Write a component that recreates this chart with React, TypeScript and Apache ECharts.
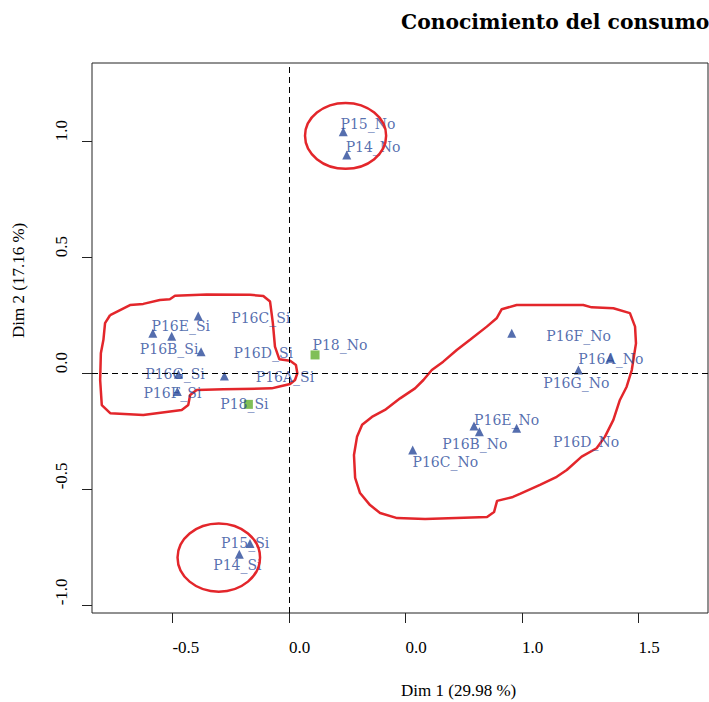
import React, { useEffect, useRef } from "react";
import * as echarts from "echarts";

const xTicks = [-0.5, 0, 0.5, 1, 1.5];
const xTickLabels = ["-0.5", "0.0", "0.0", "1.0", "1.5"];
const yTicks = [-1, -0.5, 0, 0.5, 1];
const yTickLabels = ["-1.0", "-0.5", "0.0", "0.5", "1.0"];

const titleText = "Conocimiento del consumo";
const xName = "Dim 1 (29.98 %)";
const yName = "Dim 2 (17.16 %)";

// Category points (triangles)
const triNames = [
  "P16C_Si", "P16E_Si", "P16B_Si", "P16D_Si", "P16G_Si", "P16A_Si", "P16F_Si", "P15_Si", "P14_Si",
  "P15_No", "P14_No", "P16F_No", "P16A_No", "P16G_No", "P16E_No", "P16D_No", "P16B_No", "P16C_No",
];
const triX = [
  -0.389, -0.584, -0.503, -0.377, -0.474, -0.277, -0.479, -0.167, -0.213,
  0.233, 0.248, 0.956, 1.378, 1.242, 0.794, 0.977, 0.817, 0.531,
];
const triY = [
  0.247, 0.172, 0.16, 0.093, -0.004, -0.012, -0.079, -0.733, -0.78,
  1.041, 0.941, 0.172, 0.065, 0.014, -0.227, -0.237, -0.252, -0.331,
];
const triLabelX = [
  -0.121, -0.464, -0.514, -0.11, -0.489, -0.017, -0.5, -0.188, -0.221,
  0.339, 0.361, 1.243, 1.381, 1.233, 0.934, 1.275, 0.798, 0.671,
];
const triLabelY = [
  0.237, 0.204, 0.105, 0.089, -0.004, -0.017, -0.086, -0.733, -0.826,
  1.075, 0.974, 0.162, 0.06, -0.041, -0.201, -0.295, -0.305, -0.384,
];

// Supplementary points (squares)
const sqNames = ["P18_Si", "P18_No"];
const sqX = [-0.174, 0.112];
const sqY = [-0.134, 0.079];
const sqLabelX = [-0.191, 0.219];
const sqLabelY = [-0.134, 0.122];

// Hand-drawn hulls
const hullLeftX = [
  -0.767, -0.682, -0.625, -0.554, -0.511, -0.489, -0.353, -0.167, -0.11, -0.081, -0.069, -0.06,
  -0.041, 0.005, 0.03, 0.036, 0.026, 0.005, -0.045, -0.074, -0.281, -0.396, -0.424, -0.432,
  -0.46, -0.625, -0.767, -0.803, -0.81, -0.807, -0.796, -0.789, -0.767,
];
const hullLeftY = [
  0.251, 0.294, 0.299, 0.316, 0.319, 0.334, 0.339, 0.338, 0.333, 0.309, 0.216, 0.115,
  0.06, 0.054, 0.036, 0.0, -0.029, -0.046, -0.058, -0.065, -0.069, -0.072, -0.094, -0.137,
  -0.158, -0.18, -0.172, -0.137, -0.029, 0.086, 0.144, 0.216, 0.251,
];
const hullRightX = [
  0.477, 0.541, 0.577, 0.613, 0.662, 0.72, 0.777, 0.849, 0.891, 0.913, 0.977, 1.263, 1.299,
  1.392, 1.463, 1.485, 1.489, 1.471, 1.449, 1.42, 1.392, 1.356, 1.32, 1.256, 1.192, 1.149,
  1.077, 0.991, 0.961, 0.893, 0.88, 0.85, 0.584, 0.464, 0.391, 0.348, 0.305, 0.284, 0.279,
  0.292, 0.314, 0.356, 0.412, 0.477,
];
const hullRightY = [
  -0.108, -0.065, -0.029, 0.014, 0.05, 0.1, 0.144, 0.201, 0.237, 0.276, 0.294, 0.294, 0.284,
  0.28, 0.259, 0.201, 0.129, 0.014, -0.058, -0.115, -0.201, -0.273, -0.323, -0.359, -0.417,
  -0.446, -0.481, -0.52, -0.533, -0.55, -0.598, -0.619, -0.628, -0.624, -0.602, -0.568,
  -0.516, -0.451, -0.352, -0.274, -0.222, -0.188, -0.158, -0.108,
];

// Hand-drawn ellipses (data units)
const ellCX = [0.243, -0.301];
const ellCY = [1.023, -0.794];
const ellRX = [0.174, 0.177];
const ellRY = [0.142, 0.147];

const BLUE = "#2B4A9A";
const GREEN = "#62AF2E";
const RED = "#E3262B";
const LABEL_FONT = "'DejaVu Serif', serif";
const AXIS_FONT = "'Liberation Serif', 'Times New Roman', serif";

function tickLabel(v: number, ticks: number[], labels: string[]) {
  for (let i = 0; i < ticks.length; i++) {
    if (Math.abs(v - ticks[i]) < 1e-9) return labels[i];
  }
  return "";
}

export default function App() {
  const ref = useRef<HTMLDivElement>(null);

  useEffect(() => {
    if (!ref.current) return;
    const chart = echarts.init(ref.current, null, { renderer: "svg" });

    const option: any = {
      animation: false,
      backgroundColor: "#ffffff",
      grid: {
        left: 92,
        top: 63,
        width: 616,
        height: 550,
        show: true,
        borderColor: "#222",
        borderWidth: 1,
        backgroundColor: "transparent",
      },
      xAxis: {
        type: "value",
        min: -0.845,
        max: 1.798,
        axisLine: { show: false, onZero: false },
        splitLine: { show: false },
        axisTick: {
          show: true,
          inside: false,
          length: 10,
          customValues: xTicks,
          lineStyle: { color: "#222", width: 1 },
        },
        axisLabel: {
          customValues: xTicks,
          formatter: (v: number) => tickLabel(v, xTicks, xTickLabels),
          align: "left",
          margin: 26,
          color: "#000",
          fontFamily: AXIS_FONT,
          fontSize: 17,
        },
      },
      yAxis: {
        type: "value",
        min: -1.033,
        max: 1.337,
        axisLine: { show: false, onZero: false },
        splitLine: { show: false },
        axisTick: {
          show: true,
          inside: false,
          length: 10,
          customValues: yTicks,
          lineStyle: { color: "#222", width: 1 },
        },
        axisLabel: {
          customValues: yTicks,
          formatter: (v: number) => tickLabel(v, yTicks, yTickLabels),
          rotate: 90,
          align: "left",
          verticalAlign: "bottom",
          margin: 22,
          color: "#000",
          fontFamily: AXIS_FONT,
          fontSize: 17,
        },
      },
      series: [
        {
          type: "line",
          data: hullLeftX.map((x, i) => [x, hullLeftY[i]]),
          showSymbol: false,
          symbol: "none",
          lineStyle: { color: RED, width: 2.5 },
          silent: true,
          z: 2,
          markLine: {
            silent: true,
            symbol: ["none", "none"],
            label: { show: false },
            lineStyle: { color: "#000", type: [6, 4], width: 1 },
            data: [{ xAxis: 0 }, { yAxis: 0 }],
          },
        },
        {
          type: "line",
          data: hullRightX.map((x, i) => [x, hullRightY[i]]),
          showSymbol: false,
          symbol: "none",
          lineStyle: { color: RED, width: 2.5 },
          silent: true,
          z: 2,
        },
        {
          type: "scatter",
          data: triX.map((x, i) => [x, triY[i], triNames[i]]),
          symbol: "triangle",
          symbolSize: 9,
          itemStyle: { color: BLUE },
          z: 3,
        },
        {
          type: "scatter",
          data: sqX.map((x, i) => [x, sqY[i], sqNames[i]]),
          symbol: "rect",
          symbolSize: 9,
          itemStyle: { color: GREEN },
          z: 3,
        },
        {
          type: "scatter",
          data: triLabelX
            .map((x, i) => [x, triLabelY[i], triNames[i]])
            .concat(sqLabelX.map((x, i) => [x, sqLabelY[i], sqNames[i]])),
          symbolSize: 1,
          itemStyle: { color: "rgba(0,0,0,0)" },
          z: 4,
          label: {
            show: true,
            position: "inside",
            formatter: (p: any) => p.data[2],
            color: BLUE,
            fontFamily: LABEL_FONT,
            fontSize: 14,
          },
        },
      ],
    };
    chart.setOption(option);

    const ellipses = ellCX.map((cx, i) => {
      const c = chart.convertToPixel({ gridIndex: 0 }, [cx, ellCY[i]]) as number[];
      const e = chart.convertToPixel({ gridIndex: 0 }, [cx + ellRX[i], ellCY[i] + ellRY[i]]) as number[];
      return {
        type: "ellipse",
        silent: true,
        z: 5,
        shape: { cx: c[0], cy: c[1], rx: Math.abs(e[0] - c[0]), ry: Math.abs(c[1] - e[1]) },
        style: { fill: "none", stroke: RED, lineWidth: 2.5 },
      };
    });

    chart.setOption({
      graphic: [
        ...ellipses,
        {
          type: "text",
          x: 401,
          y: 22,
          style: {
            text: titleText,
            fill: "#000",
            font: "bold 20.3px 'DejaVu Serif', serif",
            textAlign: "left",
            textVerticalAlign: "middle",
          },
        },
        {
          type: "text",
          x: 401,
          y: 690,
          style: {
            text: xName,
            fill: "#000",
            font: "17px 'Liberation Serif', serif",
            textAlign: "left",
            textVerticalAlign: "middle",
          },
        },
        {
          type: "text",
          x: 18,
          y: 338,
          rotation: Math.PI / 2,
          style: {
            text: yName,
            fill: "#000",
            font: "17px 'Liberation Serif', serif",
            textAlign: "left",
            textVerticalAlign: "middle",
          },
        },
      ],
    });

    return () => chart.dispose();
  }, []);

  return (
    <div
      ref={ref}
      style={{ position: "absolute", left: 0, top: 0, width: 709, height: 702 }}
    />
  );
}
